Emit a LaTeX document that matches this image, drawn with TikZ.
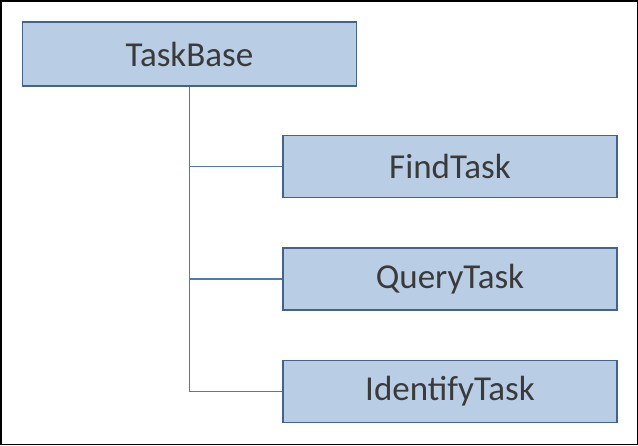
\documentclass[tikz,border=0pt]{standalone}
\usepackage{fontspec}
\setmainfont{Carlito}
\usepackage{xcolor}
\usepackage{tikz}
\usetikzlibrary{positioning,calc}

\definecolor{boxfill}{HTML}{B9CDE5}
\definecolor{boxline}{HTML}{41648F}
\definecolor{linkline}{HTML}{4F7AAF}
\definecolor{textgray}{HTML}{3A3A3A}

\begin{document}
\begin{tikzpicture}[x=1pt,y=-1pt,
  classbox/.style={draw=boxline,fill=boxfill,line width=1.8pt,minimum width=334pt,minimum height=62pt,inner sep=0pt,font=\fontsize{35}{40}\selectfont,text=textgray},
  link/.style={draw=linkline,line width=1.8pt}]
  \draw[black,line width=1.5pt] (0.75,0.75) rectangle (637.25,444.25);
  \useasboundingbox (0,0) rectangle (638,445);
  \node[classbox,minimum height=64pt] (base) at (189.5,54) {TaskBase};
  \node[classbox] (find) at (450,166.5) {FindTask};
  \node[classbox] (query) at (450,279) {QueryTask};
  \node[classbox] (ident) at (450,391.5) {IdentifyTask};
  \foreach \t in {find,query,ident}
    \draw[link] (base.south) |- (\t.west);
\end{tikzpicture}
\end{document}
